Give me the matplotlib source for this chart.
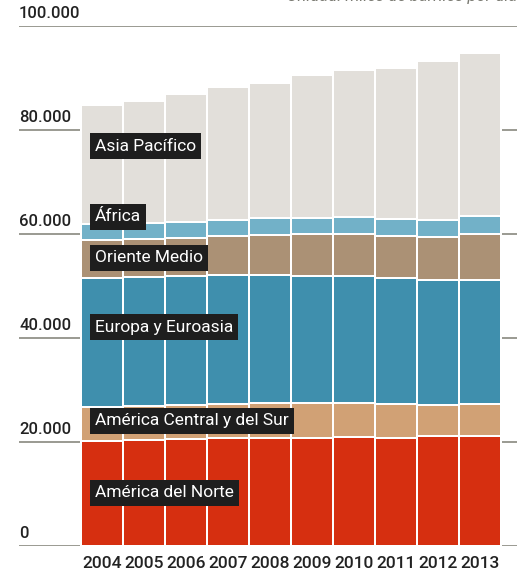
import matplotlib
matplotlib.use("Agg")
import matplotlib.pyplot as plt
import matplotlib.transforms as mtransforms
import numpy as np

plt.rcParams['font.family'] = ['Roboto', 'DejaVu Sans']

# data: miles de barriles por dia
years = ["2004", "2005", "2006", "2007", "2008", "2009", "2010", "2011", "2012", "2013"]
america_norte = [20200, 20450, 20500, 20700, 20850, 20700, 20900, 20700, 21200, 21100]
america_sur = [6470, 6470, 6550, 6600, 6650, 6740, 6660, 6550, 5970, 6150]
europa = [24930, 24810, 24810, 24760, 24680, 24540, 24420, 24290, 23980, 23960]
oriente_medio = [7190, 7310, 7430, 7550, 7690, 7960, 8080, 8130, 8270, 8790]
africa = [3080, 3130, 3080, 3080, 3150, 3080, 3210, 3210, 3330, 3460]
asia = [22940, 23470, 24610, 25520, 26080, 27620, 28330, 29100, 30580, 31280]

series = [america_norte, america_sur, europa, oriente_medio, africa, asia]
names = ["América del Norte", "América Central y del Sur", "Europa y Euroasia",
         "Oriente Medio", "África", "Asia Pacífico"]
colors = ["#d62f10", "#d1a175", "#3f8fad", "#ab9175", "#72b1c8", "#e2dfda"]
label_y = [10200, 24050, 42100, 55400, 63300, 76900]

yticks = [0, 20000, 40000, 60000, 80000, 100000]
ytick_labels = ["0", "20.000", "40.000", "60.000", "80.000", "100.000"]

fig = plt.figure(figsize=(5.27, 5.71), dpi=100)
ax = fig.add_axes([19/527, 25/571, 498/527, 520/571])

x = np.arange(len(years))
bottom = np.zeros(len(years))
for vals, col in zip(series, colors):
    ax.bar(x, vals, width=1.0, bottom=bottom, color=col,
           edgecolor="white", linewidth=1.44, zorder=2)
    bottom += np.array(vals)

ax.set_xlim(-83/42, 415/42)
ax.set_ylim(0, 100000)

# gridlines behind the bars
for t in yticks:
    ax.axhline(t, color="#9a9a92", linewidth=1.4, zorder=1)

trans = mtransforms.blended_transform_factory(ax.transAxes, ax.transData)
for t, lab in zip(yticks, ytick_labels):
    ax.text(0.0, t + 900, lab, transform=trans, ha="left", va="bottom",
            fontsize=12, color="#222222", fontweight="medium")

for xi, yr in zip(x, years):
    ax.text(xi, -1900, yr, ha="center", va="top", fontsize=12.5, color="#222222",
            fontweight="medium")

for name, ly in zip(names, label_y):
    ax.text(-0.17, ly, name, ha="left", va="center", fontsize=12.5, color="white",
            bbox=dict(boxstyle="square,pad=0.3", facecolor="#1e1e1e", edgecolor="none"),
            zorder=5)

fig.text(517/527, 1.006, "Unidad: miles de barriles por día", ha="right", va="center",
         fontsize=12, style="italic", color="#7a7a72")

for s in ax.spines.values():
    s.set_visible(False)
ax.set_xticks([])
ax.set_yticks([])

fig.savefig("out.png", dpi=100)
